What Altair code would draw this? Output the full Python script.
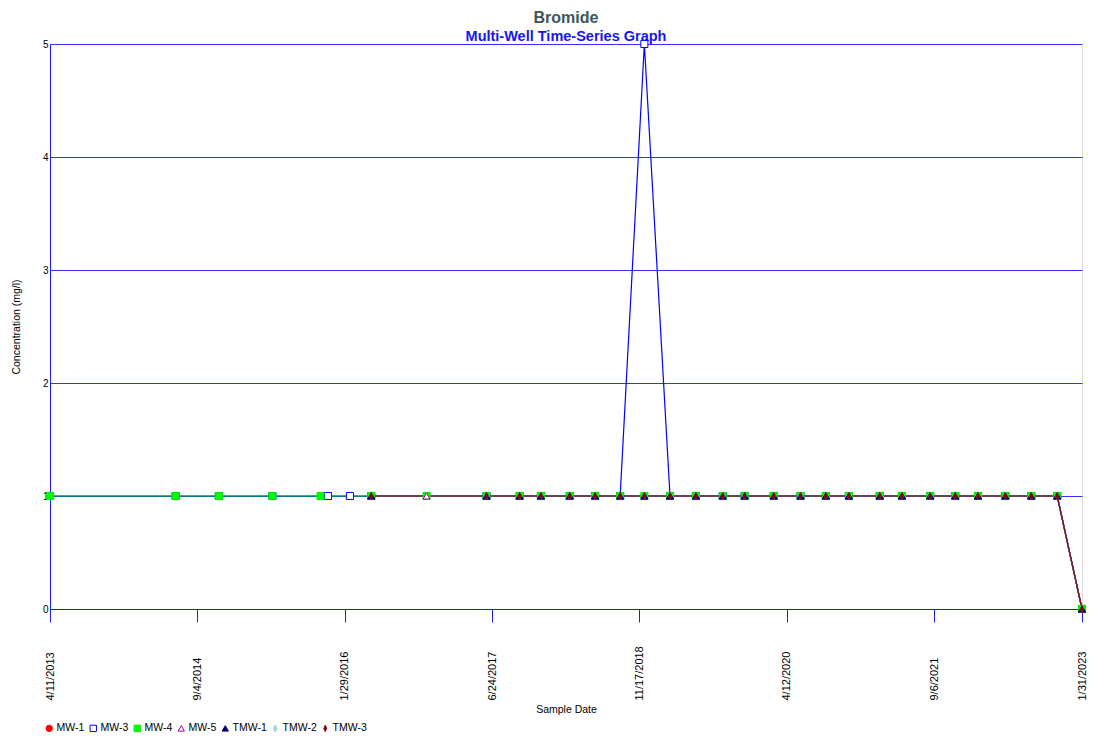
import altair as alt
import pandas as pd

FONT = "Liberation Sans"

series_names = ["MW-1", "MW-3", "MW-4", "MW-5", "TMW-1", "TMW-2", "TMW-3"]
stroke_colors = ["#FF0000", "#0000FF", "#00EE00", "#A000A0", "#000080", "#88BBBB", "#800000"]
fill_colors = ["#FF0000", "#FFFFFF", "#00FF00", "#FFFFFF", "#000080", "#CCE8E8", "#800000"]
line_colors = ["#FF0000", "#0000FF", "#00DD00", "#A000A0", "#000080", "#88BBBB", "#7A1010"]
thin_diamond = "M0,-1L0.45,0L0,1L-0.45,0Z"
shapes = ["circle", "square", "square", "triangle-up", "triangle-up", thin_diamond, thin_diamond]

early_dates = ["2013-04-11", "2014-06-21", "2014-11-18", "2015-05-23"]
later_dates = [
    "2016-04-30", "2016-11-08", "2017-06-04", "2017-09-27", "2017-12-10",
    "2018-03-20", "2018-06-16", "2018-09-11", "2018-12-04", "2019-03-03",
    "2019-06-01", "2019-09-02", "2019-11-17", "2020-02-26", "2020-05-29",
    "2020-08-25", "2020-11-13", "2021-02-28", "2021-05-16", "2021-08-22",
    "2021-11-17", "2022-02-04", "2022-05-10", "2022-08-08", "2022-11-06",
    "2023-01-31",
]
later_no_nov16 = [d for d in later_dates if d != "2016-11-08"]

mw1_dates = later_no_nov16
mw1_values = [1] * 24 + [0]

mw3_dates = early_dates + ["2015-12-02", "2016-02-16"] + later_no_nov16
mw3_values = [1] * 6 + [1, 1, 1, 1, 1, 1, 1, 5, 1, 1, 1, 1, 1, 1, 1, 1, 1, 1, 1, 1, 1, 1, 1, 1, 0]

mw4_dates = early_dates + ["2015-11-06"] + later_dates
mw4_values = [1] * 5 + [1] * 25 + [0]

mw5_dates = later_dates
mw5_values = [1] * 25 + [0]

tmw1_dates = later_no_nov16
tmw1_values = [1] * 24 + [0]

tmw2_dates = later_no_nov16
tmw2_values = [1] * 24 + [0]

tmw3_dates = later_no_nov16
tmw3_values = [1] * 24 + [0]

series_data = {
    "MW-1": (mw1_dates, mw1_values),
    "MW-3": (mw3_dates, mw3_values),
    "MW-4": (mw4_dates, mw4_values),
    "MW-5": (mw5_dates, mw5_values),
    "TMW-1": (tmw1_dates, tmw1_values),
    "TMW-2": (tmw2_dates, tmw2_values),
    "TMW-3": (tmw3_dates, tmw3_values),
}

rows = []
for i, name in enumerate(series_names):
    ds, vs = series_data[name]
    for d, v in zip(ds, vs):
        rows.append({"series": name, "line_series": name, "date": d, "value": v})
df = pd.DataFrame(rows)

x_ticks = [(2013, 4, 11), (2014, 9, 4), (2016, 1, 29), (2017, 6, 24),
           (2018, 11, 17), (2020, 4, 12), (2021, 9, 6), (2023, 1, 31)]
y_ticks = [0, 1, 2, 3, 4, 5]

def dt(t):
    return alt.DateTime(year=t[0], month=t[1], date=t[2], utc=True)

x_enc = alt.X(
    "date:T",
    scale=alt.Scale(type="utc", domain=[dt(x_ticks[0]), dt(x_ticks[-1])]),
    axis=alt.Axis(
        values=[dt(t) for t in x_ticks],
        labelExpr="utcFormat(datum.value, '%-m/%-d/%Y')",
        labelAngle=270,
        labelAlign="left",
        labelBaseline="middle",
        labelPadding=78,
        labelFlush=False,
        labelOverlap=False,
        labelBound=False,
        labelFontSize=11,
        labelColor="#000000",
        labelFont=FONT,
        tickSize=13,
        tickColor="#1A1AFF",
        domainColor="#1A1AFF",
        grid=False,
        title="Sample Date",
        titleFontSize=10.5,
        titleFontWeight="normal",
        titleFont=FONT,
        titleColor="#000000",
        titlePadding=4,
    ),
)
y_enc = alt.Y(
    "value:Q",
    scale=alt.Scale(domain=[0, 5], nice=False, zero=False),
    axis=alt.Axis(
        values=y_ticks,
        format="d",
        grid=True,
        gridColor="#3030FF",
        gridOpacity=1,
        gridWidth=1,
        domainColor="#1A1AFF",
        ticks=False,
        labelPadding=2,
        labelFontSize=10,
        labelColor="#000000",
        labelFont=FONT,
        title="Concentration (mg/l)",
        titleFontSize=10.5,
        titleFontWeight="normal",
        titleFont=FONT,
        titleColor="#000000",
        titlePadding=21,
    ),
)

legend = alt.Legend(
    title=None,
    orient="none",
    legendX=-6,
    legendY=679,
    direction="horizontal",
    labelFontSize=10.5,
    labelFont=FONT,
    labelColor="#000000",
    symbolSize=40,
    symbolStrokeWidth=1,
    labelOffset=2,
    columnPadding=3,
    padding=0,
)

lines = alt.Chart(df).mark_line(strokeWidth=1.2).encode(
    x=x_enc,
    y=y_enc,
    color=alt.Color("line_series:N", scale=alt.Scale(domain=series_names, range=line_colors), legend=None),
    order=alt.Order("date:T"),
)

points = alt.Chart(df).mark_point(size=50, strokeWidth=1, filled=True, opacity=1).encode(
    x=x_enc,
    y=y_enc,
    stroke=alt.Stroke("series:N", scale=alt.Scale(domain=series_names, range=stroke_colors), legend=legend),
    fill=alt.Fill("series:N", scale=alt.Scale(domain=series_names, range=fill_colors), legend=legend),
    shape=alt.Shape("series:N", scale=alt.Scale(domain=series_names, range=shapes), legend=legend),
)

chart = alt.layer(lines, points).resolve_legend(
    color="independent", stroke="shared", fill="shared", shape="shared"
).properties(
    width=1032,
    height=565,
    autosize=alt.AutoSizeParams(type="none"),
    padding={"left": 42, "top": 36, "right": 5, "bottom": 126},
    title=alt.TitleParams(
        text="Bromide",
        subtitle="Multi-Well Time-Series Graph",
        font=FONT,
        fontSize=16,
        fontWeight="bold",
        color="#3B5757",
        subtitleFont=FONT,
        subtitleFontSize=14.5,
        subtitleFontWeight="bold",
        subtitleColor="#1515F5",
        subtitlePadding=4,
        anchor="middle",
        offset=-5,
    ),
).configure_view(
    stroke="#1A1AFF", strokeWidth=1
).configure(background="white")

chart.save("out.html", embed_options={"renderer": "svg", "actions": False})
